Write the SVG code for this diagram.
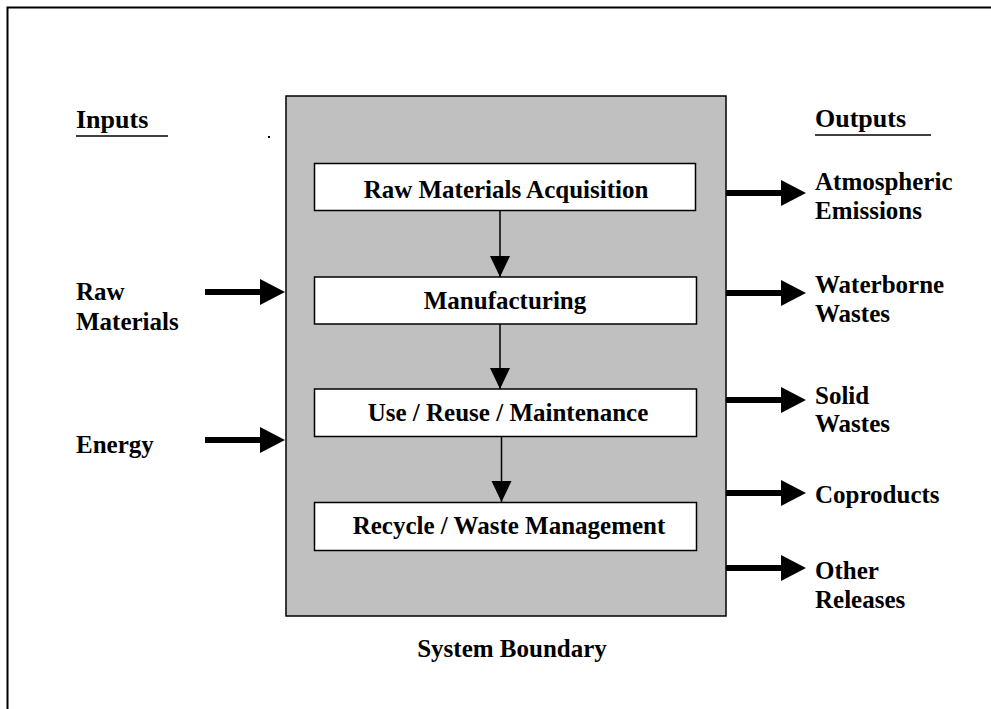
<svg xmlns="http://www.w3.org/2000/svg" width="991" height="709" viewBox="0 0 991 709">
<style>
text{font-family:"Liberation Serif","Times New Roman",serif;font-weight:bold;font-size:25px;fill:#000}
.hd{font-size:26px}
.box{fill:#fff;stroke:#000;stroke-width:1.5}
.thick{stroke:#000;stroke-width:6;fill:none}
.thin{stroke:#000;stroke-width:1.5;fill:none}
.ul{stroke:#000;stroke-width:1.5}
</style>
<defs>
<marker id="big" markerUnits="userSpaceOnUse" markerWidth="26" markerHeight="28" refX="0" refY="13" orient="auto" overflow="visible">
<path d="M0,0 L25,13 L0,26 Z" fill="#000"/>
</marker>
<marker id="small" markerUnits="userSpaceOnUse" markerWidth="22" markerHeight="22" refX="21" refY="10" orient="auto" overflow="visible">
<path d="M0,0 L21,10 L0,20 Z" fill="#000"/>
</marker>
</defs>
<rect width="991" height="709" fill="#fff"/>
<rect x="7.5" y="7.5" width="1100" height="1100" fill="none" stroke="#000" stroke-width="2"/>
<rect x="268" y="136" width="2" height="2" fill="#000"/>

<g id="system-boundary">
<rect x="286" y="96" width="440" height="520" fill="#c0c0c0" stroke="#000" stroke-width="1.5"/>
<text x="512" y="657" text-anchor="middle">System Boundary</text>
</g>

<g id="inputs-heading">
<text class="hd" x="76" y="128">Inputs</text>
<line class="ul" x1="76" y1="136" x2="168" y2="136"/>
</g>
<g id="outputs-heading">
<text class="hd" x="815" y="127">Outputs</text>
<line class="ul" x1="815" y1="135" x2="931" y2="135"/>
</g>

<g id="raw-materials-acquisition">
<rect class="box" x="314.5" y="163.5" width="381" height="47"/>
<text x="506" y="198" text-anchor="middle">Raw Materials Acquisition</text>
</g>
<g id="manufacturing">
<rect class="box" x="314.5" y="277" width="382" height="47"/>
<text x="505" y="309" text-anchor="middle">Manufacturing</text>
</g>
<g id="use-reuse-maintenance">
<rect class="box" x="314.5" y="389" width="382" height="47.5"/>
<text x="508" y="421" text-anchor="middle">Use / Reuse / Maintenance</text>
</g>
<g id="recycle-waste-management">
<rect class="box" x="314.5" y="502.5" width="382" height="48"/>
<text x="509" y="534" text-anchor="middle">Recycle / Waste Management</text>
</g>

<g id="input-raw-materials">
<text x="76" y="300">Raw</text>
<text x="76" y="330">Materials</text>
</g>
<g id="input-energy">
<text x="76" y="453">Energy</text>
</g>

<g id="output-atmospheric-emissions">
<text x="815" y="190">Atmospheric</text>
<text x="815" y="219">Emissions</text>
</g>
<g id="output-waterborne-wastes">
<text x="815" y="293">Waterborne</text>
<text x="815" y="322">Wastes</text>
</g>
<g id="output-solid-wastes">
<text x="815" y="404">Solid</text>
<text x="815" y="432">Wastes</text>
</g>
<g id="output-coproducts">
<text x="815" y="503">Coproducts</text>
</g>
<g id="output-other-releases">
<text x="815" y="579">Other</text>
<text x="815" y="608">Releases</text>
</g>

<g id="connectors">
<line class="thin" x1="500" y1="211" x2="500" y2="277" marker-end="url(#small)"/>
<line class="thin" x1="500" y1="324" x2="500" y2="389" marker-end="url(#small)"/>
<line class="thin" x1="501.5" y1="437" x2="501.5" y2="502" marker-end="url(#small)"/>
<line class="thick" x1="205" y1="292" x2="260" y2="292" marker-end="url(#big)"/>
<line class="thick" x1="205" y1="440" x2="260" y2="440" marker-end="url(#big)"/>
<line class="thick" x1="726" y1="193" x2="781" y2="193" marker-end="url(#big)"/>
<line class="thick" x1="726" y1="293" x2="781" y2="293" marker-end="url(#big)"/>
<line class="thick" x1="726" y1="400" x2="781" y2="400" marker-end="url(#big)"/>
<line class="thick" x1="726" y1="493" x2="781" y2="493" marker-end="url(#big)"/>
<line class="thick" x1="726" y1="568" x2="781" y2="568" marker-end="url(#big)"/>
</g>
</svg>
